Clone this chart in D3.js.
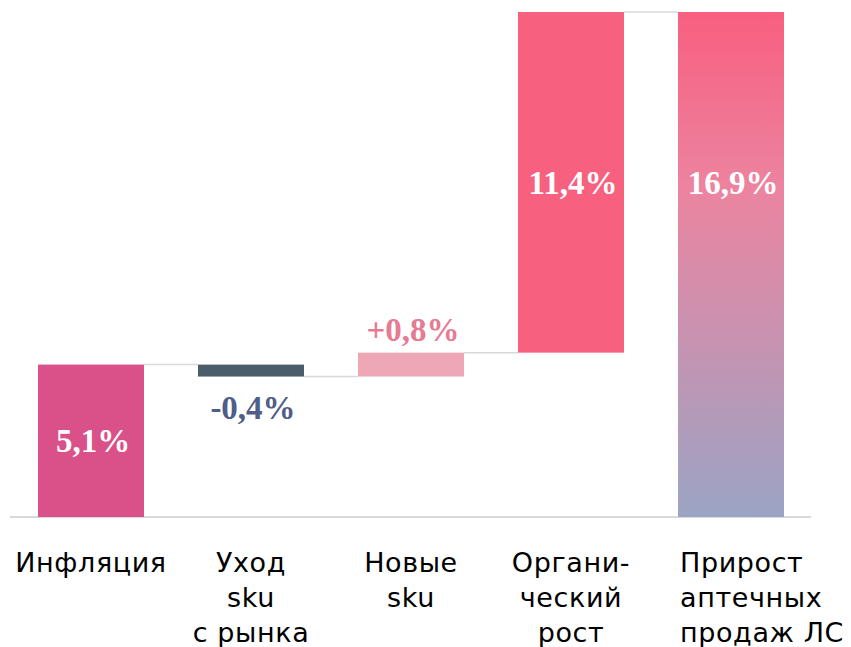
<!DOCTYPE html>
<html>
<head>
<meta charset="utf-8">
<script src="https://cdn.jsdelivr.net/npm/d3@7"></script>
<style>
  body { margin:0; background:#fff; }
</style>
</head>
<body>
<svg width="851" height="647"></svg>
<script>
// data
const categories = [["Инфляция"], ["Уход", "sku", "с рынка"], ["Новые", "sku"], ["Органи-", "ческий", "рост"], ["Прирост", "аптечных", "продаж ЛС"]]
const deltas = [5.1, -0.4, 0.8, 11.4]   // steps
const total = 16.9                      // last bar
const valueLabels = ["5,1%", "-0,4%", "+0,8%", "11,4%", "16,9%"]
const barColors = ["#da5088", "#4b5c6b", "#eea7b5", "#f8607f", "url(#totalGrad)"]

const svg = d3.select("svg")
const width = +svg.attr("width")
const height = +svg.attr("height")

// build bar list (start / end)
let cum = 0
const bars = deltas.map((d, i) => {
    const b = { i, start: cum, end: cum + d, delta: d }
    cum += d
    return b
})
bars.push({ i: 4, start: 0, end: total, delta: total, isTotal: true })

const xScale = d3.scaleBand()
    .domain(d3.range(categories.length))
    .range([11, 811])
    .paddingInner(0.3375)
    .paddingOuter(0.16875)

const yScale = d3.scaleLinear()
    .domain([0, total])
    .range([517, 12])

// gradient for total
const grad = svg.append("defs").append("linearGradient")
    .attr("id", "totalGrad")
    .attr("x1", 0).attr("y1", 0).attr("x2", 0).attr("y2", 1)
grad.append("stop").attr("offset", "0%").attr("stop-color", "#f85f80")
grad.append("stop").attr("offset", "35%").attr("stop-color", "#ec84a0")
grad.append("stop").attr("offset", "100%").attr("stop-color", "#9ba4c4")

// baseline axis
const xAxisG = svg.append("g")
    .attr("transform", `translate(0,${yScale(0)})`)
    .call(d3.axisBottom(xScale).tickSize(0).tickFormat(""))
xAxisG.select(".domain")
    .attr("d", "M10,0H811")
    .attr("stroke", "#d9d9d9")
    .attr("stroke-width", 2)

// connector lines
const conn = []
for (let i = 0; i < bars.length - 1; i++) {
    conn.push({ x1: xScale(i) + xScale.bandwidth(), x2: xScale(i + 1), v: bars[i].end })
}
svg.selectAll(".conn").data(conn)
    .enter().append("line")
    .attr("class", "conn")
    .attr("x1", d => d.x1).attr("x2", d => d.x2)
    .attr("y1", d => yScale(d.v)).attr("y2", d => yScale(d.v))
    .attr("stroke", "#d9d9d9")
    .attr("stroke-width", 1.5)

// bars
svg.selectAll(".bar").data(bars)
    .enter().append("rect")
    .attr("class", "bar")
    .attr("x", d => xScale(d.i))
    .attr("width", xScale.bandwidth())
    .attr("y", d => yScale(Math.max(d.start, d.end)))
    .attr("height", d => Math.abs(yScale(d.start) - yScale(d.end)))
    .attr("fill", d => barColors[d.i])

// value labels
const labelY = d => {
    const top = yScale(Math.max(d.start, d.end))
    const bottom = yScale(Math.min(d.start, d.end))
    if (d.i === 1) return bottom + 31         // below negative step
    if (d.i === 2) return top - 23            // above small step
    if (d.isTotal) { const b = bars[3]; return (yScale(b.start) + yScale(b.end)) / 2 }
    return (top + bottom) / 2
}
const labelColor = ["#fff", "#4f5d88", "#e67b94", "#fff", "#fff"]
svg.selectAll(".val").data(bars)
    .enter().append("text")
    .attr("class", "val")
    .attr("x", d => xScale(d.i) + xScale.bandwidth() / 2 + 2)
    .attr("y", d => labelY(d))
    .attr("dy", "0.35em")
    .attr("text-anchor", "middle")
    .attr("font-family", "'Liberation Serif', serif")
    .attr("font-weight", "bold")
    .attr("font-size", "33px")
    .attr("fill", d => labelColor[d.i])
    .text(d => valueLabels[d.i])

// category labels
const cat = svg.selectAll(".cat").data(categories)
    .enter().append("text")
    .attr("class", "cat")
    .attr("font-family", "'DejaVu Sans', sans-serif")
    .attr("font-size", "27px")
    .attr("letter-spacing", "0.6px")
    .attr("fill", "#000")
    .attr("text-anchor", (d, i) => i === 4 ? "start" : "middle")
    .attr("x", (d, i) => i === 4 ? xScale(i) + 2 : xScale(i) + xScale.bandwidth() / 2)
cat.selectAll("tspan").data(d => d)
    .enter().append("tspan")
    .attr("x", function () { return this.parentNode.getAttribute("x") })
    .attr("y", (d, j) => 572 + j * 35)
    .text(d => d)
</script>
</body>
</html>
